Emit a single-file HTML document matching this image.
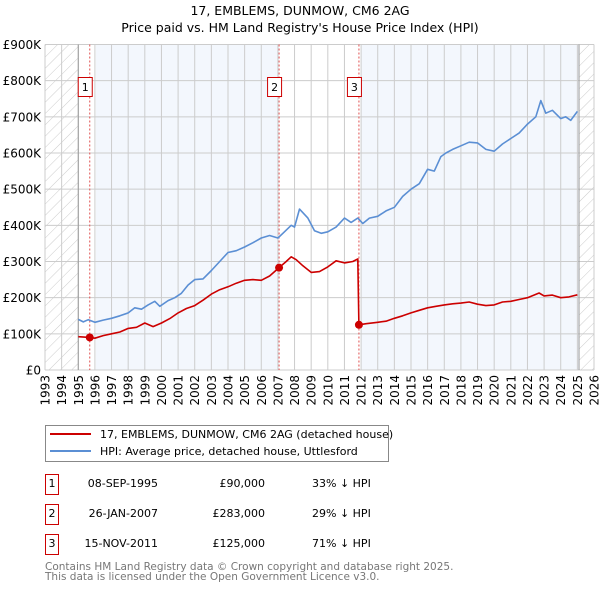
<!DOCTYPE html>
<html><head><meta charset="utf-8"><style>
body{margin:0;background:#fff;width:600px;height:590px;overflow:hidden}
svg text{font-family:"DejaVu Sans","Liberation Sans",sans-serif}
</style></head><body>
<svg id="chart" width="600" height="590" xmlns="http://www.w3.org/2000/svg">
<defs><pattern id="hatch" patternUnits="userSpaceOnUse" width="8" height="8" patternTransform="rotate(45)"><line x1="0" y1="0" x2="0" y2="8" stroke="#ccc" stroke-width="1"/></pattern></defs>
<text x="300" y="15" text-anchor="middle" font-size="12.5">17, EMBLEMS, DUNMOW, CM6 2AG</text>
<text x="300" y="32" text-anchor="middle" font-size="12.5">Price paid vs. HM Land Registry's House Price Index (HPI)</text>
<g id="plot"></g>
<g>
<rect x="45.5" y="425.5" width="343" height="36" fill="#fff" stroke="#888"/>
<line x1="50" y1="434" x2="91" y2="434" stroke="#cc0000" stroke-width="2"/>
<text x="100" y="438" font-size="11">17, EMBLEMS, DUNMOW, CM6 2AG (detached house)</text>
<line x1="50" y1="451" x2="91" y2="451" stroke="#5b8fd4" stroke-width="2"/>
<text x="100" y="455" font-size="11">HPI: Average price, detached house, Uttlesford</text>
</g>
<g id="table" font-size="11"></g>
<text x="45" y="570" font-size="10.5" fill="#777">Contains HM Land Registry data © Crown copyright and database right 2025.</text>
<text x="45" y="580" font-size="10.5" fill="#777">This data is licensed under the Open Government Licence v3.0.</text>
</svg>
<script>
const yTicks=[0,100,200,300,400,500,600,700,800,900];
const yTickLabels=["£0","£100K","£200K","£300K","£400K","£500K","£600K","£700K","£800K","£900K"];
const years=[1993,1994,1995,1996,1997,1998,1999,2000,2001,2002,2003,2004,2005,2006,2007,2008,2009,2010,2011,2012,2013,2014,2015,2016,2017,2018,2019,2020,2021,2022,2023,2024,2025,2026];
const hpiT=[1995.0,1995.3,1995.6,1996.0,1996.5,1997,1997.5,1998,1998.4,1998.8,1999.2,1999.6,1999.9,2000.4,2000.8,2001.2,2001.6,2002,2002.5,2003,2003.5,2004,2004.5,2005,2005.5,2006,2006.5,2007,2007.3,2007.8,2008,2008.3,2008.8,2009.2,2009.6,2010,2010.5,2011,2011.4,2011.8,2012.1,2012.5,2013,2013.5,2014,2014.5,2015,2015.5,2016,2016.4,2016.8,2017.1,2017.5,2018,2018.5,2019,2019.5,2020,2020.5,2021,2021.5,2022,2022.5,2022.8,2023.1,2023.5,2024,2024.3,2024.6,2025.0];
const hpiV=[140,133,139,132,138,143,150,158,172,168,180,190,176,192,200,212,235,250,252,275,300,325,330,340,352,365,372,365,378,400,395,445,420,385,378,382,395,420,408,420,405,420,425,440,450,480,500,515,555,550,590,600,610,620,630,628,610,605,625,640,655,680,700,745,710,718,695,700,690,715];
const redT=[1995.0,1995.69,1996.0,1996.5,1997,1997.5,1998,1998.5,1999,1999.5,2000,2000.5,2001,2001.5,2002,2002.5,2003,2003.5,2004,2004.5,2005,2005.5,2006,2006.5,2007.07,2007.5,2007.8,2008.1,2008.5,2009,2009.5,2010,2010.5,2011,2011.5,2011.8];
const redV=[92,90,88,95,100,105,115,118,130,120,130,142,158,170,178,193,210,222,230,240,248,250,248,260,283,300,313,305,288,270,272,285,302,296,300,307];
const red2T=[2011.87,2012.3,2013,2013.5,2014,2014.5,2015,2015.5,2016,2016.5,2017,2017.5,2018,2018.5,2019,2019.5,2020,2020.5,2021,2021.5,2022,2022.7,2023,2023.5,2024,2024.5,2025];
const red2V=[125,128,132,135,143,150,158,165,172,176,180,183,185,188,182,178,180,188,190,195,200,213,205,207,200,202,208];
const saleT=[1995.69,2007.07,2011.87];
const saleV=[90,283,125];
const saleLabels=["1","2","3"];
const saleDates=["08-SEP-1995","26-JAN-2007","15-NOV-2011"];
const salePrices=["£90,000","£283,000","£125,000"];
const saleDiffs=["33% ↓ HPI","29% ↓ HPI","71% ↓ HPI"];

const X0=45,X1=594,Y0=370,Y1=44.5;
const xs=t=>X0+(t-1993)/(2026-1993)*(X1-X0);
const ys=v=>Y0-v/900*(Y0-Y1);
const NS="http://www.w3.org/2000/svg";
const plot=document.getElementById('plot');
function mk(tag,attrs,parent){const e=document.createElementNS(NS,tag);for(const k in attrs)e.setAttribute(k,attrs[k]);(parent||plot).appendChild(e);return e;}

let r=mk('rect',{x:xs(1996.06),y:Y1,width:xs(2007.07)-xs(1996.06),height:Y0-Y1,fill:'#eef3fc',opacity:0.7});


r=mk('rect',{x:xs(2012),y:Y1,width:xs(2025.1)-xs(2012),height:Y0-Y1,fill:'#eef3fc',opacity:0.7});


r=mk('rect',{x:X0,y:Y1,width:xs(1995)-X0,height:Y0-Y1,fill:'url(#hatch)'});


r=mk('rect',{x:xs(2025.1),y:Y1,width:X1-xs(2025.1),height:Y0-Y1,fill:'url(#hatch)'});



yTicks.forEach((v,i)=>{
 const l=mk('line',{x1:X0,x2:X1,y1:ys(v),y2:ys(v),stroke:'#ccc','stroke-width':1});
 
 
 const t=mk('text',{x:X0-4,y:ys(v)+4.5,'text-anchor':'end','font-size':12});
 
 
 t.textContent=yTickLabels[i];
});
years.forEach(yr=>{
 const l=mk('line',{x1:xs(yr),x2:xs(yr),y1:Y1,y2:Y0,stroke:'#ccc','stroke-width':1});
 
 
 const x=xs(yr)+4.5,y=Y0+5;
 const t=mk('text',{x:x,y:y,'text-anchor':'end','font-size':12,transform:`rotate(-90 ${x} ${y})`});
 
 
 t.textContent=yr;
});
[1995,2025.1].forEach(t=>{const l=mk('line',{x1:xs(t),x2:xs(t),y1:Y1,y2:Y0,stroke:'#999','stroke-width':1});
 
 });

saleT.forEach((t,i)=>{
 const l=mk('line',{x1:xs(t),x2:xs(t),y1:Y1,y2:Y0,stroke:'#e05050','stroke-width':1,'stroke-dasharray':'2,2'});
 
 
 const b=mk('rect',{x:xs(t)-11.5,y:77.5,width:14,height:19,fill:'#fff',stroke:'#cc0000'});
 
 
 const tx=mk('text',{x:xs(t)-4.5,y:91,'text-anchor':'middle','font-size':11});
 
 
 tx.textContent=saleLabels[i];
});

function path(T,V,col,name){
 const d=T.map((t,i)=>(i?'L':'M')+xs(t).toFixed(1)+' '+ys(V[i]).toFixed(1)).join(' ');
 const p=mk('path',{d:d,fill:'none',stroke:col,'stroke-width':1.6,'stroke-linejoin':'round'});
 
 
}
path(hpiT,hpiV,'#5b8fd4','hpi-line');
path(redT.concat(red2T),redV.concat(red2V),'#cc0000','price-paid-line');
saleT.forEach((t,i)=>{
 const c=mk('circle',{cx:xs(t),cy:ys(saleV[i]),r:4,fill:'#cc0000'});
 
 
});

const tb=document.getElementById('table');
const rowY=[487,517,547];
saleLabels.forEach((lab,i)=>{
 const y=rowY[i];
 const b=mk('rect',{x:45.5,y:y-12.5,width:13,height:20,fill:'#fff',stroke:'#cc0000'},tb);
 
 
 const cells=[[52,lab,'middle'],[158,saleDates[i],'end'],[265,salePrices[i],'end'],[312,saleDiffs[i],'start']];
 cells.forEach(c=>{
  const t=mk('text',{x:c[0],y:y,'text-anchor':c[2]},tb);
  
  
  t.textContent=c[1];
 });
});
</script>
</body></html>
